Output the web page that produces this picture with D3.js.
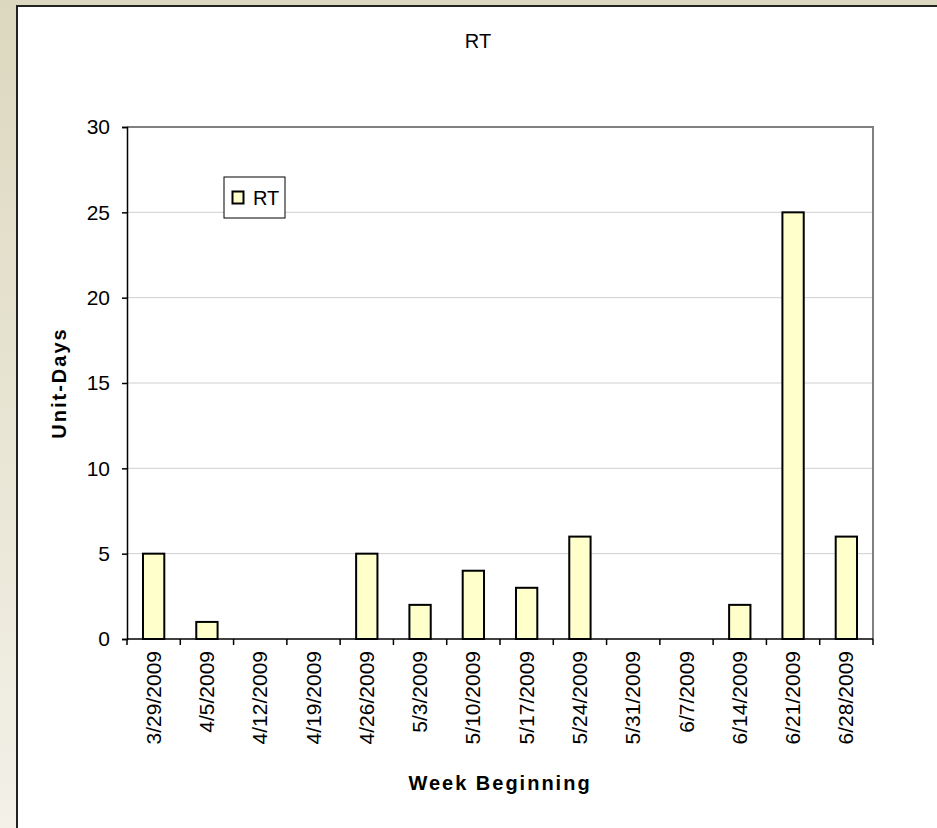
<!DOCTYPE html>
<html>
<head>
<meta charset="utf-8">
<script src="https://cdn.jsdelivr.net/npm/d3@7"></script>
<style>
  html, body { margin: 0; padding: 0; }
  body { width: 937px; height: 828px; overflow: hidden; }
  text { font-family: Arial, "Liberation Sans", sans-serif; fill: #000; }
</style>
</head>
<body>
<svg id="chart" width="937" height="828"></svg>
<script>
// Weekly unit-days for RT
const weeks = ["3/29/2009", "4/5/2009", "4/12/2009", "4/19/2009", "4/26/2009", "5/3/2009",
  "5/10/2009", "5/17/2009", "5/24/2009", "5/31/2009", "6/7/2009", "6/14/2009", "6/21/2009", "6/28/2009"];
const rtValues = [5, 1, 0, 0, 5, 2, 4, 3, 6, 0, 0, 2, 25, 6];
const yTicks = [0, 5, 10, 15, 20, 25, 30];
const seriesName = "RT";

const svg = d3.select("#chart");

// Page backdrop and chart panel
const defs = svg.append("defs");
const grad = defs.append("linearGradient").attr("id", "bg").attr("x1", 0).attr("y1", 0).attr("x2", 0).attr("y2", 1);
grad.append("stop").attr("offset", "0%").attr("stop-color", "#dcd8bf");
grad.append("stop").attr("offset", "100%").attr("stop-color", "#f3f1e8");
svg.append("rect").attr("width", 937).attr("height", 828).attr("fill", "url(#bg)");
svg.append("rect").attr("x", 17).attr("y", 6).attr("width", 930).attr("height", 830)
  .attr("fill", "#fff").attr("stroke", "#222").attr("stroke-width", 2);

const plot = { left: 127, top: 127, right: 873, bottom: 639 };

const x = d3.scaleBand().domain(weeks).range([plot.left, plot.right]).paddingInner(0.6).paddingOuter(0.3);
const xEdges = d3.scaleBand().domain(weeks).range([plot.left, plot.right]);
const y = d3.scaleLinear().domain([0, 30]).range([plot.bottom, plot.top]);

// Horizontal gridlines
svg.append("g").selectAll("line").data(yTicks.filter(v => v > 0 && v < 30)).join("line")
  .attr("x1", plot.left).attr("x2", plot.right)
  .attr("y1", d => y(d)).attr("y2", d => y(d))
  .attr("stroke", "#d0d0d0").attr("stroke-width", 1);

// Plot frame (top and right)
svg.append("path")
  .attr("d", `M${plot.left},${y(30)}H${plot.right}V${plot.bottom}`)
  .attr("fill", "none").attr("stroke", "#808080").attr("stroke-width", 2);

// Bars (weeks with zero draw nothing)
const barData = rtValues.map((v, i) => ({ week: weeks[i], v })).filter(d => d.v > 0);
svg.append("g").selectAll("rect").data(barData).join("rect")
  .attr("x", d => x(d.week))
  .attr("width", x.bandwidth())
  .attr("y", d => y(d.v))
  .attr("height", d => y(0) - y(d.v))
  .attr("fill", "#ffffcc").attr("stroke", "#000").attr("stroke-width", 2);

// Y axis
const yAxis = svg.append("g").attr("transform", `translate(${plot.left},0)`)
  .call(d3.axisLeft(y).tickValues(yTicks).tickSize(5).tickPadding(12));
yAxis.select(".domain").attr("stroke", "#000").attr("stroke-width", 1.5);
yAxis.selectAll(".tick line").attr("stroke", "#000").attr("stroke-width", 1.5);
yAxis.selectAll("text").attr("font-size", 21).attr("font-family", "Arial, 'Liberation Sans', sans-serif");

// X axis: ticks on category boundaries
const xg = svg.append("g");
xg.append("line").attr("x1", plot.left).attr("x2", plot.right).attr("y1", plot.bottom).attr("y2", plot.bottom)
  .attr("stroke", "#000").attr("stroke-width", 1.5);
const edges = weeks.map(w => xEdges(w)).concat([plot.right]);
xg.selectAll(".edge").data(edges).join("line").attr("class", "edge")
  .attr("x1", d => d).attr("x2", d => d).attr("y1", plot.bottom).attr("y2", plot.bottom + 6)
  .attr("stroke", "#000").attr("stroke-width", 1.5);
xg.selectAll(".lbl").data(weeks).join("text").attr("class", "lbl")
  .attr("transform", d => `translate(${xEdges(d) + xEdges.bandwidth() / 2 + 7},${plot.bottom + 12}) rotate(-90)`)
  .attr("text-anchor", "end").attr("font-size", 21)
  .text(d => d);

// Titles
svg.append("text").attr("x", 478).attr("y", 48).attr("text-anchor", "middle").attr("font-size", 20).text(seriesName);
svg.append("text").attr("x", (plot.left + plot.right) / 2).attr("y", 790).attr("text-anchor", "middle")
  .attr("font-size", 20).attr("font-weight", "bold").attr("letter-spacing", 2).text("Week Beginning");
svg.append("text").attr("transform", `translate(66,${(plot.top + plot.bottom) / 2}) rotate(-90)`)
  .attr("text-anchor", "middle").attr("font-size", 20).attr("font-weight", "bold").attr("letter-spacing", 2)
  .text("Unit-Days");

// Legend
const lg = svg.append("g").attr("transform", "translate(224,177)");
lg.append("rect").attr("width", 61).attr("height", 41).attr("fill", "#fff").attr("stroke", "#000").attr("stroke-width", 1);
lg.append("rect").attr("x", 8.5).attr("y", 14.5).attr("width", 11).attr("height", 12)
  .attr("fill", "#ffffcc").attr("stroke", "#000").attr("stroke-width", 2);
lg.append("text").attr("x", 29).attr("y", 28).attr("font-size", 20).text(seriesName);
</script>
</body>
</html>
